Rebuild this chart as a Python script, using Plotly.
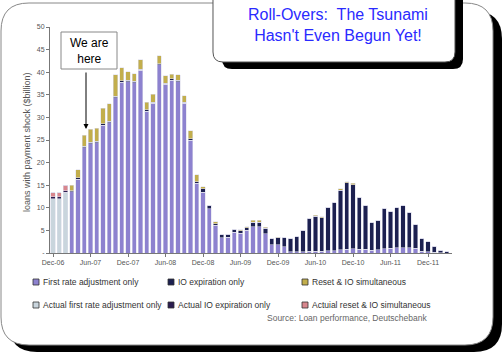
import pandas as pd
import plotly.graph_objects as go

# ---------------- data ----------------
months = list(pd.date_range("2006-12-01", periods=64, freq="MS").strftime("%b-%y"))
tick_labels = ["Dec-06", "Jun-07", "Dec-07", "Jun-08", "Dec-08", "Jun-09",
               "Dec-09", "Jun-10", "Dec-10", "Jun-11", "Dec-11"]

actual_first_rate = [12.0, 12.0, 13.4] + [0] * 61
actual_io_only = [0.4, 0.4, 0.4] + [0] * 61
actual_reset_io = [0.9, 0.9, 1.2] + [0] * 61

first_rate_only = [0, 0, 0, 13.5, 16.3, 23.3, 24.2, 24.4, 28.3, 28.8,
                   34.4, 37.8, 37.9, 37.7, 40.4, 31.4, 33.1, 41.6, 37.3, 38.2,
                   37.9, 33.1, 25.0, 15.4, 13.4, 9.8, 6.1, 3.4, 3.5, 4.6,
                   4.4, 5.0, 5.8, 5.8, 4.3, 1.8, 1.8, 1.4, 0.3, 0.3,
                   0.3, 0.4, 0.4, 0.4, 0.5, 0.5, 0.7, 0.8, 0.9, 0.8,
                   0.8, 0.6, 0.7, 0.9, 1.1, 1.2, 1.2, 1.2, 1.0, 0.4,
                   0.3, 0.2, 0.1, 0.0]
io_expiration_only = [0, 0, 0, 0.3, 0.3, 0.3, 0.3, 0.3, 0.3, 0.3,
                      0.3, 0.3, 0.3, 0.3, 0.3, 0.3, 0.3, 0.3, 0.3, 0.3,
                      0.3, 0.3, 0.3, 0.4, 0.8, 0.8, 0.4, 0.6, 0.6, 0.7,
                      0.5, 0.6, 1.0, 1.0, 1.2, 1.4, 1.6, 2.0, 2.9, 3.3,
                      4.7, 7.3, 7.7, 7.4, 9.6, 10.6, 13.2, 14.7, 14.2, 11.5,
                      9.8, 6.1, 6.6, 9.0, 8.0, 8.8, 9.3, 7.8, 5.2, 2.8,
                      2.2, 1.3, 0.56, 0.3]
reset_io_simultaneous = [0, 0, 0, 1.2, 1.8, 2.5, 2.9, 2.9, 3.4, 3.9,
                         4.7, 2.9, 1.9, 1.7, 2.1, 1.6, 1.7, 1.7, 1.6, 1.1,
                         1.2, 1.4, 1.8, 1.5, 0.5, 0.0, 0.4, 0.0, 0.0, 0.0,
                         0.2, 0.2, 0.5, 0.5, 0.2, 0.0, 0.1, 0.0, 0.0, 0.0,
                         0.0, 0.0, 0.2, 0.2, 0.0, 0.0, 0.3, 0.3, 0.3, 0.0,
                         0.0, 0.0, 0.0, 0.0, 0.0, 0.0, 0.0, 0.0, 0.0, 0.0,
                         0.0, 0.0, 0.0, 0.0]

# ---------------- styling ----------------
W, H = 503, 355
PL, PR, PT, PB = 50, 452, 27, 253   # plot area in pixels


def xp(px):
    return (px - PL) / (PR - PL)


def yp(py):
    return (PB - py) / (PB - PT)


def rounded(x0, y0, x1, y1, r):
    pts = [("M", [(x0 + r, y0)]), ("L", [(x1 - r, y0)]), ("Q", [(x1, y0), (x1, y0 + r)]),
           ("L", [(x1, y1 - r)]), ("Q", [(x1, y1), (x1 - r, y1)]),
           ("L", [(x0 + r, y1)]), ("Q", [(x0, y1), (x0, y1 - r)]),
           ("L", [(x0, y0 + r)]), ("Q", [(x0, y0), (x0 + r, y0)])]
    s = ""
    for cmd, ps in pts:
        s += cmd + " " + " ".join(f"{xp(a):.5f},{yp(b):.5f}" for a, b in ps) + " "
    return s + "Z"


series = [
    ("Actual first rate adjustment only", actual_first_rate, "#c9d5dd"),
    ("First rate adjustment only", first_rate_only, "#8d82cf"),
    ("Actual IO expiration only", actual_io_only, "#2b1d50"),
    ("IO expiration only", io_expiration_only, "#1c2050"),
    ("Actuial reset & IO simultaneous", actual_reset_io, "#d8868d"),
    ("Reset & IO simultaneous", reset_io_simultaneous, "#c2ae4c"),
]

fig = go.Figure()
for name, vals, col in series:
    fig.add_trace(go.Bar(x=months, y=vals, name=name, marker_color=col,
                         marker_line_color="rgba(220,220,235,0.9)", marker_line_width=0.6,
                         showlegend=False))

tick_font = dict(family="Liberation Sans", size=7, color="#555")
fig.update_layout(
    width=W, height=H, barmode="stack", bargap=0.32,
    margin=dict(l=PL, r=W - PR, t=PT, b=H - PB),
    paper_bgcolor="white", plot_bgcolor="rgba(0,0,0,0)",
    xaxis=dict(type="category", range=[-0.48, 63.84], tickmode="array",
               tickvals=tick_labels, ticktext=tick_labels, tickangle=0,
               showline=True, linecolor="#777", linewidth=1, ticks="outside",
               ticklen=3, tickcolor="#777", tickfont=tick_font, showgrid=False,
               zeroline=False),
    yaxis=dict(range=[0, 50], tickmode="array", tickvals=list(range(0, 51, 5)),
               ticktext=["-"] + [str(v) for v in range(5, 51, 5)],
               showline=True, linecolor="#777", linewidth=1, ticks="outside",
               ticklen=3, tickcolor="#777", tickfont=tick_font, showgrid=False,
               zeroline=False),
    font=dict(family="Liberation Sans"),
)

shapes = [
    # main panel: shadow then white card
    dict(type="path", path=rounded(9, 11, 502, 352, 28), xref="paper", yref="paper",
         fillcolor="black", line=dict(width=0), layer="below"),
    dict(type="path", path=rounded(1, 3, 493, 345, 28), xref="paper", yref="paper",
         fillcolor="white", line=dict(color="#888", width=1), layer="below"),
    # title box
    dict(type="path", path=rounded(222, -20, 463, 69, 10), xref="paper", yref="paper",
         fillcolor="black", line=dict(width=0), layer="above"),
    dict(type="path", path=rounded(213, -20, 455, 62, 10), xref="paper", yref="paper",
         fillcolor="white", line=dict(color="#555", width=1), layer="above"),
    # "We are here" box
    dict(type="rect", x0=xp(61), x1=xp(117), y0=yp(32), y1=yp(69), xref="paper",
         yref="paper", fillcolor="white", line=dict(color="#888", width=1), layer="above"),
]

annotations = [
    dict(text="Roll-Overs:\u00a0 The Tsunami<br>Hasn't Even Begun Yet!", x=xp(338), y=yp(25),
         xref="paper", yref="paper", showarrow=False, xanchor="center", yanchor="middle",
         font=dict(family="Liberation Sans", size=16, color="#2a2aff")),
    dict(text="We are<br>here", x=xp(89), y=yp(50.5), xref="paper", yref="paper",
         showarrow=False, xanchor="center", yanchor="middle",
         font=dict(family="Liberation Sans", size=12, color="black")),
    dict(text="", x=xp(86), y=yp(129), xref="paper", yref="paper", showarrow=True,
         ax=0, ay=-58, arrowhead=2, arrowsize=1, arrowwidth=1, arrowcolor="black"),
    dict(text="loans with payment shock ($billion)", x=xp(27), y=yp(142), xref="paper",
         yref="paper", showarrow=False, textangle=-90, xanchor="center", yanchor="middle",
         font=dict(family="Liberation Sans", size=9, color="#555")),
    dict(text="Source: Loan performance, Deutschebank", x=xp(429), y=yp(318), xref="paper",
         yref="paper", showarrow=False, xanchor="right", yanchor="middle",
         font=dict(family="Liberation Sans", size=8.5, color="#666")),
]

# manual legend
legend_pos = [
    ("First rate adjustment only", 1, 33, 282),
    ("IO expiration only", 3, 168, 282),
    ("Reset & IO simultaneous", 5, 302, 282),
    ("Actual first rate adjustment only", 0, 33, 305),
    ("Actual IO expiration only", 2, 168, 305),
    ("Actuial reset & IO simultaneous", 4, 302, 305),
]
for label, idx, lx, ly in legend_pos:
    shapes.append(dict(type="rect", x0=xp(lx), x1=xp(lx + 6), y0=yp(ly + 3), y1=yp(ly - 3),
                       xref="paper", yref="paper", fillcolor=series[idx][2],
                       line=dict(color="#333", width=0.8)))
    annotations.append(dict(text=label, x=xp(lx + 8), y=yp(ly), xref="paper", yref="paper",
                            showarrow=False, xanchor="left", yanchor="middle",
                            font=dict(family="Liberation Sans", size=8.5, color="#333")))

fig.update_layout(shapes=shapes, annotations=annotations)
fig.write_html("out.html", config={"displayModeBar": False},
               post_script="document.body.style.margin='0';"
                           "document.body.style.overflow='hidden';")
